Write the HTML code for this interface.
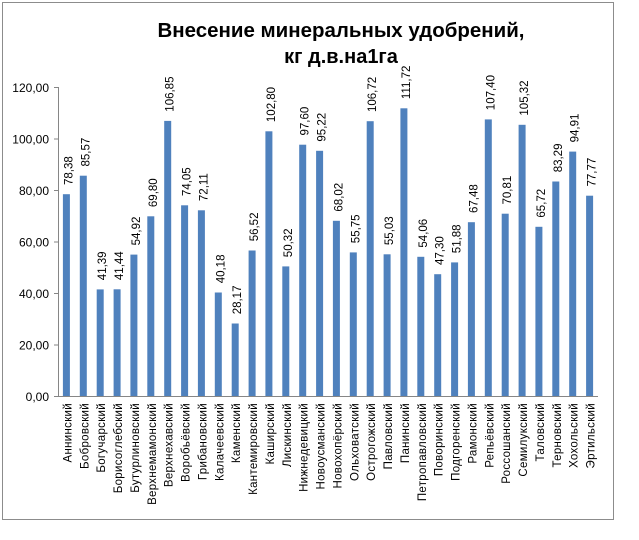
<!DOCTYPE html>
<html><head><meta charset="utf-8"><style>
html,body{margin:0;padding:0;background:#fff;}
svg{display:block;font-family:"Liberation Sans",sans-serif;}
</style></head><body>
<svg width="639" height="540" viewBox="0 0 639 540" xmlns="http://www.w3.org/2000/svg">
<rect x="2.5" y="2.5" width="611" height="517" fill="#fff" stroke="#8c8c8c" stroke-width="1"/>
<text x="341" y="37" font-size="20" font-weight="bold" text-anchor="middle" textLength="367" lengthAdjust="spacingAndGlyphs">Внесение минеральных удобрений,</text>
<text x="341" y="63" font-size="20" font-weight="bold" text-anchor="middle">кг д.в.на1га</text>
<g stroke="#868686" stroke-width="1">
<line x1="58.5" y1="87" x2="58.5" y2="396.5"/>
<line x1="58" y1="396.5" x2="598" y2="396.5"/>
<line x1="54" y1="87.5" x2="58" y2="87.5"/>
<line x1="54" y1="139" x2="58" y2="139"/>
<line x1="54" y1="190.5" x2="58" y2="190.5"/>
<line x1="54" y1="242" x2="58" y2="242"/>
<line x1="54" y1="293.5" x2="58" y2="293.5"/>
<line x1="54" y1="345" x2="58" y2="345"/>
<line x1="54" y1="396.5" x2="58" y2="396.5"/>
</g>
<g font-size="12" text-anchor="end" fill="#000">
<text x="49" y="92">120,00</text>
<text x="49" y="143.5">100,00</text>
<text x="49" y="195">80,00</text>
<text x="49" y="246.5">60,00</text>
<text x="49" y="298">40,00</text>
<text x="49" y="349.5">20,00</text>
<text x="49" y="401">0,00</text>
</g>
<g fill="#4f81bd">
<rect x="62.9" y="194.2" width="7" height="201.8"/>
<rect x="79.8" y="175.7" width="7" height="220.3"/>
<rect x="96.7" y="289.4" width="7" height="106.6"/>
<rect x="113.6" y="289.3" width="7" height="106.7"/>
<rect x="130.4" y="254.6" width="7" height="141.4"/>
<rect x="147.3" y="216.3" width="7" height="179.7"/>
<rect x="164.2" y="120.9" width="7" height="275.1"/>
<rect x="181.1" y="205.3" width="7" height="190.7"/>
<rect x="197.9" y="210.3" width="7" height="185.7"/>
<rect x="214.8" y="292.5" width="7" height="103.5"/>
<rect x="231.7" y="323.5" width="7" height="72.5"/>
<rect x="248.6" y="250.5" width="7" height="145.5"/>
<rect x="265.4" y="131.3" width="7" height="264.7"/>
<rect x="282.3" y="266.4" width="7" height="129.6"/>
<rect x="299.2" y="144.7" width="7" height="251.3"/>
<rect x="316.1" y="150.8" width="7" height="245.2"/>
<rect x="332.9" y="220.8" width="7" height="175.2"/>
<rect x="349.8" y="252.4" width="7" height="143.6"/>
<rect x="366.7" y="121.2" width="7" height="274.8"/>
<rect x="383.6" y="254.3" width="7" height="141.7"/>
<rect x="400.4" y="108.3" width="7" height="287.7"/>
<rect x="417.3" y="256.8" width="7" height="139.2"/>
<rect x="434.2" y="274.2" width="7" height="121.8"/>
<rect x="451.1" y="262.4" width="7" height="133.6"/>
<rect x="467.9" y="222.2" width="7" height="173.8"/>
<rect x="484.8" y="119.4" width="7" height="276.6"/>
<rect x="501.7" y="213.7" width="7" height="182.3"/>
<rect x="518.6" y="124.8" width="7" height="271.2"/>
<rect x="535.4" y="226.8" width="7" height="169.2"/>
<rect x="552.3" y="181.5" width="7" height="214.5"/>
<rect x="569.2" y="151.6" width="7" height="244.4"/>
<rect x="586.1" y="195.7" width="7" height="200.3"/>
</g>
<g font-size="11.5" fill="#000">
<text transform="translate(72.4,185) rotate(-90)">78,38</text>
<text transform="translate(89.3,166.5) rotate(-90)">85,57</text>
<text transform="translate(106.2,280.2) rotate(-90)">41,39</text>
<text transform="translate(123.1,280.1) rotate(-90)">41,44</text>
<text transform="translate(139.9,245.4) rotate(-90)">54,92</text>
<text transform="translate(156.8,207.1) rotate(-90)">69,80</text>
<text transform="translate(173.7,111.7) rotate(-90)">106,85</text>
<text transform="translate(190.6,196.1) rotate(-90)">74,05</text>
<text transform="translate(207.4,201.1) rotate(-90)">72,11</text>
<text transform="translate(224.3,283.3) rotate(-90)">40,18</text>
<text transform="translate(241.2,314.3) rotate(-90)">28,17</text>
<text transform="translate(258.1,241.3) rotate(-90)">56,52</text>
<text transform="translate(274.9,122.1) rotate(-90)">102,80</text>
<text transform="translate(291.8,257.2) rotate(-90)">50,32</text>
<text transform="translate(308.7,135.5) rotate(-90)">97,60</text>
<text transform="translate(325.6,141.6) rotate(-90)">95,22</text>
<text transform="translate(342.4,211.6) rotate(-90)">68,02</text>
<text transform="translate(359.3,243.2) rotate(-90)">55,75</text>
<text transform="translate(376.2,112) rotate(-90)">106,72</text>
<text transform="translate(393.1,245.1) rotate(-90)">55,03</text>
<text transform="translate(409.9,99.1) rotate(-90)">111,72</text>
<text transform="translate(426.8,247.6) rotate(-90)">54,06</text>
<text transform="translate(443.7,265) rotate(-90)">47,30</text>
<text transform="translate(460.6,253.2) rotate(-90)">51,88</text>
<text transform="translate(477.4,213) rotate(-90)">67,48</text>
<text transform="translate(494.3,110.2) rotate(-90)">107,40</text>
<text transform="translate(511.2,204.5) rotate(-90)">70,81</text>
<text transform="translate(528.1,115.6) rotate(-90)">105,32</text>
<text transform="translate(544.9,217.6) rotate(-90)">65,72</text>
<text transform="translate(561.8,172.3) rotate(-90)">83,29</text>
<text transform="translate(578.7,142.4) rotate(-90)">94,91</text>
<text transform="translate(595.6,186.5) rotate(-90)">77,77</text>
</g>
<g font-size="11.5" fill="#000" text-anchor="end" letter-spacing="0.3">
<text transform="translate(71.4,403) rotate(-90)">Аннинский</text>
<text transform="translate(88.3,403) rotate(-90)">Бобровский</text>
<text transform="translate(105.2,403) rotate(-90)">Богучарский</text>
<text transform="translate(122.1,403) rotate(-90)">Борисоглебский</text>
<text transform="translate(138.9,403) rotate(-90)">Бутурлиновский</text>
<text transform="translate(155.8,403) rotate(-90)">Верхнемамонский</text>
<text transform="translate(172.7,403) rotate(-90)">Верхнехавский</text>
<text transform="translate(189.6,403) rotate(-90)">Воробьёвский</text>
<text transform="translate(206.4,403) rotate(-90)">Грибановский</text>
<text transform="translate(223.3,403) rotate(-90)">Калачеевский</text>
<text transform="translate(240.2,403) rotate(-90)">Каменский</text>
<text transform="translate(257.1,403) rotate(-90)">Кантемировский</text>
<text transform="translate(273.9,403) rotate(-90)">Каширский</text>
<text transform="translate(290.8,403) rotate(-90)">Лискинский</text>
<text transform="translate(307.7,403) rotate(-90)">Нижнедевицкий</text>
<text transform="translate(324.6,403) rotate(-90)">Новоусманский</text>
<text transform="translate(341.4,403) rotate(-90)">Новохопёрский</text>
<text transform="translate(358.3,403) rotate(-90)">Ольховатский</text>
<text transform="translate(375.2,403) rotate(-90)">Острогожский</text>
<text transform="translate(392.1,403) rotate(-90)">Павловский</text>
<text transform="translate(408.9,403) rotate(-90)">Панинский</text>
<text transform="translate(425.8,403) rotate(-90)">Петропавловский</text>
<text transform="translate(442.7,403) rotate(-90)">Поворинский</text>
<text transform="translate(459.6,403) rotate(-90)">Подгоренский</text>
<text transform="translate(476.4,403) rotate(-90)">Рамонский</text>
<text transform="translate(493.3,403) rotate(-90)">Репьёвский</text>
<text transform="translate(510.2,403) rotate(-90)">Россошанский</text>
<text transform="translate(527.1,403) rotate(-90)">Семилукский</text>
<text transform="translate(543.9,403) rotate(-90)">Таловский</text>
<text transform="translate(560.8,403) rotate(-90)">Терновский</text>
<text transform="translate(577.7,403) rotate(-90)">Хохольский</text>
<text transform="translate(594.6,403) rotate(-90)">Эртильский</text>
</g>
</svg>
</body></html>
